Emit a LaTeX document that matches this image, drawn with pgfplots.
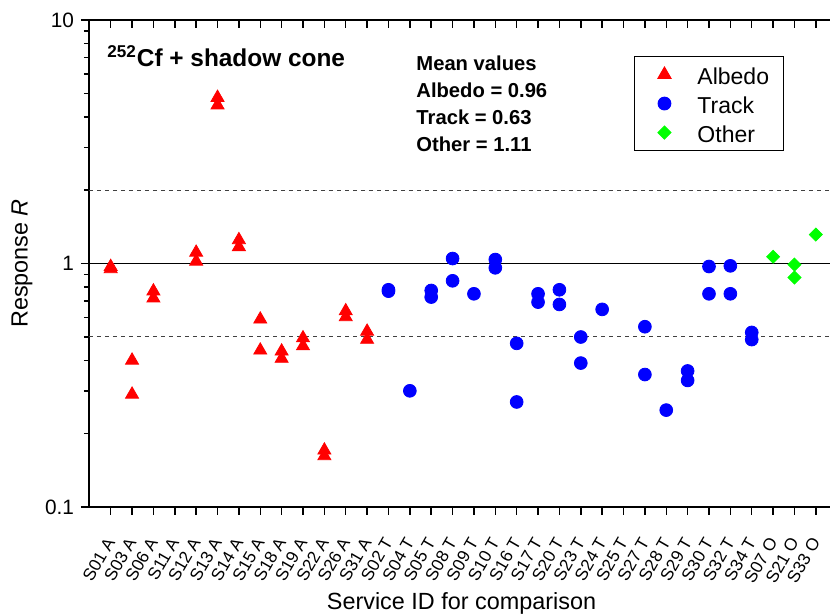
\documentclass[border=0pt]{standalone}
\usepackage{fontspec}
\setmainfont{Liberation Sans}
\usepackage{pgfplots}
\pgfplotsset{compat=1.18}
\begin{document}
\begin{tikzpicture}
\begin{axis}[
  name=ax,
  at={(0pt,0pt)}, anchor=south west,
  scale only axis,
  width=372.5pt, height=243.5pt,
  clip mode=individual,
  ymode=log, ymin=0.1, ymax=10,
  xmin=-1.015, xmax=33.85,
  xtick={0,...,33},
  major tick length=4pt, minor tick length=2.5pt,
  every major tick/.append style={black, line width=0.75pt},
  every minor tick/.append style={black, line width=0.75pt},
  axis line style={line width=1pt},
  tick align=outside,
  xtick pos=left, ytick pos=left,
  ytick={0.1,1,10}, yticklabels={0.1,1,10},
  /pgf/number format/assume math mode=true,
  xticklabels={S01 A,S03 A,S06 A,S11 A,S12 A,S13 A,S14 A,S15 A,S18 A,S19 A,S22 A,S26 A,S31 A,S02 T,S04 T,S05 T,S08 T,S09 T,S10 T,S16 T,S17 T,S20 T,S23 T,S24 T,S25 T,S27 T,S28 T,S29 T,S30 T,S32 T,S34 T,S07 O,S21 O,S33 O},
  xticklabel style={rotate=60, anchor=east, font=\fontsize{8.6}{10}\selectfont, inner sep=0pt},
  xticklabel shift=12pt,
  yticklabel style={font=\fontsize{10.4}{12}\selectfont},
  xlabel={Service ID for comparison},
  ylabel={Response \textit{R}},
  every axis y label/.style={at={(rel axis cs:0,0.5)}, xshift=-33.5pt, rotate=90, anchor=center, font=\fontsize{11.7}{13}\selectfont},
  every axis x label/.style={at={(rel axis cs:0.5,0)}, yshift=-51pt, anchor=base, font=\fontsize{11.7}{13}\selectfont},
  legend style={at={(rel axis cs:0.7315,0.926)}, anchor=north west, draw=black, line width=0.5pt,
    font=\fontsize{11.5}{13}\selectfont, inner xsep=7pt, inner ysep=3pt, row sep=2.5pt,
    nodes={inner sep=0pt, text height=11pt, text depth=1pt}},
  legend image code/.code={\path[draw=none, fill=none] (0pt,-4pt) rectangle (24.5pt,4pt); \draw[#1] plot coordinates {(8pt,0pt)};},
  legend cell align=left,
]
\addplot[black, line width=0.6pt, forget plot] coordinates {(-1.015,1) (33.85,1)};
\addplot[black!75, line width=0.5pt, dash pattern=on 2pt off 2pt, forget plot] coordinates {(-1.015,2) (33.85,2)};
\addplot[black!75, line width=0.5pt, dash pattern=on 2pt off 2pt, forget plot] coordinates {(-1.015,0.5) (33.85,0.5)};

\addplot[only marks, mark=triangle*, mark size=3.75pt, color=red] coordinates {
(0,0.97) (0,0.95)
(1,0.40) (1,0.29)
(2,0.77) (2,0.72)
(4,1.11) (4,1.02)
(5,4.80) (5,4.47)
(6,1.25) (6,1.17)
(7,0.59) (7,0.44)
(8,0.436) (8,0.407)
(9,0.494) (9,0.458)
(10,0.171) (10,0.162)
(11,0.638) (11,0.603)
(12,0.526) (12,0.487)
};
\addlegendentry{Albedo}
\addplot[only marks, mark=*, mark size=3.2pt, color=blue] coordinates {
(13,0.78) (13,0.77)
(14,0.30)
(15,0.775) (15,0.728)
(16,1.048) (16,0.849)
(17,0.751)
(18,1.038) (18,0.96)
(19,0.470) (19,0.270)
(20,0.751) (20,0.694)
(21,0.78) (21,0.679)
(22,0.499) (22,0.39)
(23,0.648)
(25,0.55) (25,0.35)
(26,0.25)
(27,0.362) (27,0.331)
(28,0.972) (28,0.751)
(29,0.978) (29,0.751)
(30,0.521) (30,0.487)
};
\addlegendentry{Track}
\addplot[only marks, mark=square*, mark options={rotate=45}, mark size=2.3pt, color=green] coordinates {
(31,1.066)
(32,0.99) (32,0.876)
(33,1.315)
};
\addlegendentry{Other}

% top ticks pointing inward
\pgfplotsinvokeforeach{0,...,33}{
  \draw[black, line width=0.75pt] (axis cs:#1,10) -- ++(0pt,-4pt);
}

\node[anchor=base west, inner sep=0pt, font=\bfseries\fontsize{12.2}{14}\selectfont] at (rel axis cs:0.0242,0.9045) {\textsuperscript{252}Cf + shadow cone};
\node[anchor=north west, inner sep=0pt, align=left, font=\bfseries\fontsize{10.1}{13.5}\selectfont] at (rel axis cs:0.439,0.927) {Mean values\\Albedo = 0.96\\Track = 0.63\\Other = 1.11};
\end{axis}
\pgfresetboundingbox
\path[use as bounding box] (ax.south west) ++(-44.5pt,-53.5pt) rectangle ++(415pt,307pt);
\end{tikzpicture}
\end{document}
